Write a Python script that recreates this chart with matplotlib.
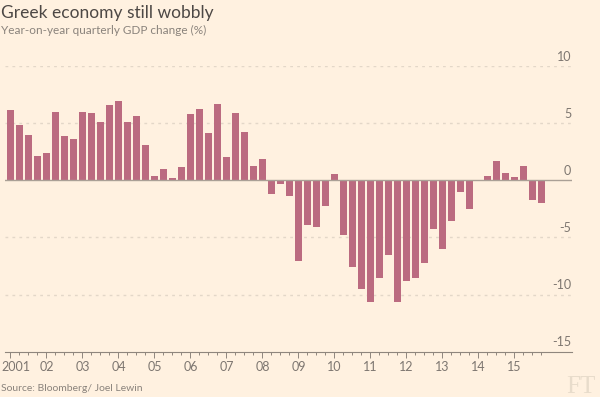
import numpy as np
import matplotlib
matplotlib.use("Agg")
import matplotlib.pyplot as plt
import matplotlib.transforms as mtransforms

# quarterly GDP change, 2001 Q1 .. 2015 Q4
gdp_change = [
    6.18, 4.88, 3.97, 2.15,
    2.38, 6.00, 3.88, 3.65,
    6.00, 5.88, 5.06, 6.59,
    6.97, 5.06, 5.59, 3.09,
    0.35, 0.97, 0.18, 1.18,
    5.79, 6.27, 4.15, 6.68,
    2.03, 5.88, 4.26, 1.24,
    1.85, -1.19, -0.31, -1.38,
    -7.05, -3.89, -4.06, -2.25,
    0.55, -4.77, -7.57, -9.47,
    -10.67, -8.54, -6.58, -10.67,
    -8.77, -8.54, -7.28, -4.27,
    -5.99, -3.57, -1.00, -2.49,
    0.00, 0.41, 1.65, 0.62,
    0.32, 1.29, -1.71, -2.00,
]
year_labels = ["2001", "02", "03", "04", "05", "06", "07", "08",
               "09", "10", "11", "12", "13", "14", "15"]
y_ticks = [10, 5, 0, -5, -10, -15]

BG = "#fff1e0"
BAR = "#bb6b80"
GRID = "#e3d7c8"
TXT = "#7d7670"

plt.rcParams["font.family"] = ["Lato", "DejaVu Sans"]

fig = plt.figure(figsize=(6.0, 3.97), dpi=100, facecolor=BG)
ax = fig.add_axes([5 / 600, 1 - 351.7 / 397, 567 / 600, (351.7 - 66) / 397])
ax.set_facecolor(BG)

x = np.arange(len(gdp_change))
ax.bar(x, gdp_change, width=0.78, color=BAR, zorder=3)

ax.set_xlim(-0.61, 62.39)
ax.set_ylim(-15, 10)

# dashed gridlines + labels sitting above them on the right
trans = mtransforms.blended_transform_factory(ax.transAxes, ax.transData)
for v in y_ticks:
    if v == 0:
        ax.axhline(0, color="#aaa096", lw=1.0, zorder=4)
    elif v != -15:
        ax.axhline(v, color=GRID, lw=1.0, ls=(0, (2, 3)), zorder=1)
    ax.text(0.9985, v + 0.3, str(v), transform=trans, ha="right",
            va="bottom", fontsize=9, color=TXT)

for s in ["top", "right", "left"]:
    ax.spines[s].set_visible(False)
ax.spines["bottom"].set_color("#8f867d")
ax.spines["bottom"].set_linewidth(0.8)

ax.set_yticks([])
ax.set_xticks(x[::4])
ax.set_xticklabels(year_labels)
ax.set_xticks(x, minor=True)
ax.tick_params(axis="x", which="major", length=4.5, width=0.7,
               color="#8f867d", labelsize=9, labelcolor=TXT, pad=2)
ax.tick_params(axis="x", which="minor", length=2.5, width=0.7,
               color="#8f867d")
# keep the first year label inside the figure edge
first = ax.get_xticklabels()[0]
first.set_horizontalalignment("left")
first.set_transform(first.get_transform() +
                    mtransforms.ScaledTranslation(-9 / 100, 0, fig.dpi_scale_trans))

fig.text(0.002, 1 - 18 / 397, "Greek economy still wobbly", fontsize=12.5,
         color="#4d4845", va="baseline")
fig.text(0.002, 1 - 34.5 / 397, "Year-on-year quarterly GDP change (%)",
         fontsize=8.5, color="#8a837c", va="baseline")
fig.text(0.002, 1 - 391 / 397, "Source: Bloomberg/ Joel Lewin",
         fontsize=7.5, color="#8a837c", va="baseline")
fig.text(596 / 600, 1 - 393 / 397, "FT", fontsize=18, color="#e8dccb",
         family="Liberation Serif", ha="right", va="baseline")

fig.savefig("out.png", dpi=100, facecolor=BG)
